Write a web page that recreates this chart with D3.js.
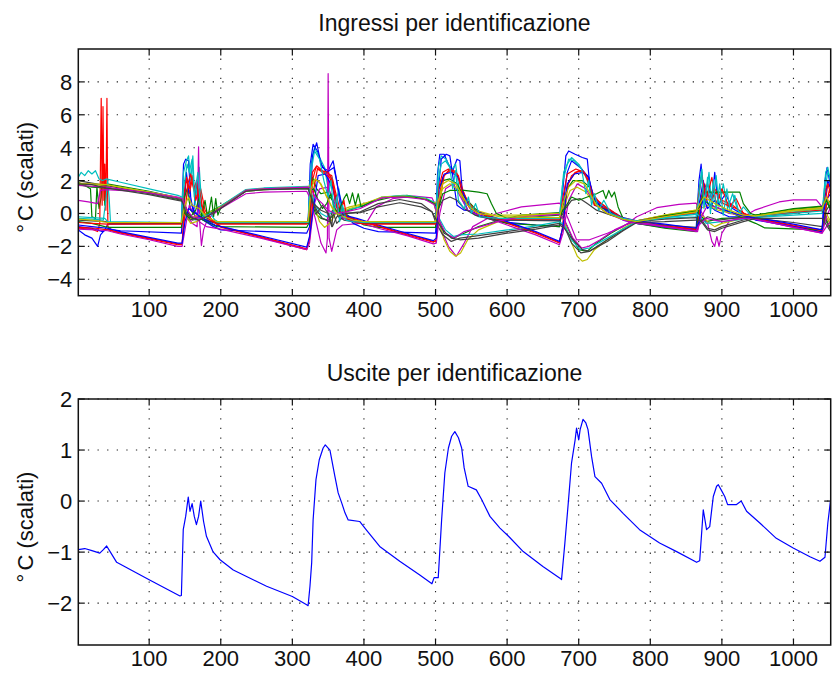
<!DOCTYPE html>
<html>
<head>
<meta charset="utf-8">
<script src="https://cdn.jsdelivr.net/npm/d3@7"></script>
<style>
body { margin: 0; background: #fff; }
svg { font-family: "Liberation Sans", Arial, Helvetica, sans-serif; }
.frame { fill: none; stroke: #111; stroke-width: 1.5; }
.grid line { stroke: #222; stroke-width: 1.1; stroke-dasharray: 1.3 8.3; }
.tick { stroke: #111; stroke-width: 1.2; }
.series { fill: none; stroke-width: 1.2; stroke-linejoin: round; }
text { fill: #111; }
</style>
</head>
<body>
<div id="chart"></div>
<script>
// ---- data ([sample, value]) ----
const xTicks = [100, 200, 300, 400, 500, 600, 700, 800, 900, 1000];
const yTicksTop = [-4, -2, 0, 2, 4, 6, 8];
const yTicksBottom = [-2, -1, 0, 1, 2];

// MATLAB default colour order, cycled over the inputs
const colorOrder = ['#0000ff', '#008000', '#ff0000', '#00bfbf', '#bf00bf', '#bfbf00', '#404040'];

const inBlue1 = [[1,-1.0],[10,-1.3],[20,-1.5],[28,-2.0],[32,-1.3],[38,-1.0],[42,-0.65],[145,-0.6],[148,3.0],[151,3.3],[155,3.2],[158,1.0],[162,0.0],[166,2.0],[170,-0.2],[180,-0.4],[195,-0.6],[322,-0.6],[325,3.0],[329,4.2],[335,3.8],[342,2.8],[350,2.6],[357,3.2],[362,2.0],[368,0.2],[380,-0.3],[400,-0.6],[500,-0.6],[503,2.5],[506,3.6],[512,3.6],[518,3.0],[524,2.6],[530,3.3],[534,3.2],[538,1.0],[545,0.2],[560,-0.1],[590,-0.4],[673,-0.4],[678,1.5],[682,3.5],[686,3.8],[695,3.6],[705,3.4],[712,3.3],[716,1.5],[722,0.5],[740,0.2],[762,-0.3],[781,-0.6],[820,-0.8],[864,-1.0],[868,2.0],[871,3.0],[874,1.0],[880,1.8],[886,0.8],[890,2.5],[895,0.5],[905,1.2],[915,0.3],[930,-0.1],[947,-0.4],[1000,-0.8],[1040,-1.0],[1044,2.0],[1047,2.8],[1052,1.6]];
const inGreen1 = [[1,1.9],[10,1.7],[18,1.5],[20,-0.2],[25,-0.3],[27,1.6],[30,0.3],[33,1.0],[36,3.3],[38,0.5],[41,1.8],[100,1.35],[145,0.9],[150,0.0],[155,-0.4],[165,-0.3],[180,0.0],[200,0.45],[235,1.4],[260,1.5],[322,1.6],[326,1.0],[332,0.0],[340,-0.3],[350,-0.4],[360,0.0],[380,0.2],[400,0.5],[430,1.0],[460,1.1],[485,0.9],[498,0.6],[504,-0.3],[512,-1.2],[525,-1.5],[540,-1.2],[560,-0.8],[590,-0.4],[620,-0.1],[673,0.05],[680,-0.4],[690,-1.4],[700,-2.2],[712,-2.3],[725,-1.8],[745,-1.2],[765,-0.7],[781,-0.45],[820,-0.15],[864,0.15],[870,-0.1],[878,-0.5],[900,-0.3],[930,-0.25],[947,-0.1],[1000,0.25],[1040,0.4],[1046,-0.4],[1052,-0.9]];
const inRed1 = [[1,-0.9],[20,-0.95],[28,-1.1],[31,-0.6],[33,7.0],[34.3,0.5],[35.5,6.5],[36.8,0.8],[38,3.0],[39.5,0.2],[41,7.0],[42.3,-0.8],[50,-1.1],[100,-1.55],[140,-1.9],[146,-1.9],[149,0.5],[152,2.2],[156,1.2],[160,2.0],[165,1.0],[172,1.5],[178,0.2],[186,-0.3],[196,-0.7],[201,-0.85],[260,-1.5],[320,-2.2],[324,-1.5],[328,2.0],[333,2.8],[345,2.5],[355,2.3],[362,1.0],[368,0.0],[375,-0.2],[390,-0.35],[420,-0.8],[460,-1.3],[497,-1.75],[501,-1.6],[505,1.0],[510,2.2],[518,2.6],[528,2.5],[534,2.0],[540,1.2],[548,0.4],[560,0.1],[580,-0.3],[600,-0.6],[640,-1.2],[673,-1.8],[677,-1.0],[683,1.5],[690,2.3],[700,2.6],[712,2.3],[720,1.2],[730,0.6],[745,0.2],[762,-0.3],[781,-0.5],[820,-0.75],[866,-1.0],[870,0.8],[876,1.8],[882,1.0],[890,1.5],[900,0.8],[915,0.5],[930,0.0],[947,-0.3],[1000,-0.75],[1040,-1.15],[1044,0.5],[1048,1.8],[1052,1.6]];
const inCyan1 = [[1,-0.3],[20,-0.35],[36,-0.4],[40,1.0],[42,2.0],[44,1.0],[46,-0.55],[145,-0.55],[148,2.5],[152,3.2],[155,3.5],[158,2.0],[161,3.5],[164,0.5],[170,2.8],[174,0.0],[180,-0.3],[195,-0.55],[322,-0.55],[326,3.0],[331,4.0],[337,3.5],[345,2.8],[350,1.5],[355,2.2],[360,0.5],[365,1.5],[370,-0.2],[380,-0.4],[400,-0.55],[500,-0.55],[504,2.8],[508,3.5],[515,3.3],[522,2.6],[528,3.0],[533,1.5],[538,0.8],[545,0.2],[560,-0.2],[590,-0.35],[673,-0.35],[679,2.5],[684,3.0],[690,3.4],[700,3.0],[706,2.6],[712,2.0],[718,1.2],[725,0.6],[740,0.3],[762,-0.3],[781,-0.5],[820,-0.3],[864,-0.2],[868,1.5],[872,2.7],[876,0.5],[882,2.5],[886,0.3],[892,2.3],[896,0.4],[902,1.8],[908,0.3],[915,1.2],[922,0.2],[930,0.0],[947,-0.25],[1000,-0.1],[1040,0.0],[1045,2.5],[1048,2.8],[1052,1.8]];
const inMagenta1 = [[1,0.8],[15,0.7],[28,0.6],[32,1.4],[40,1.45],[100,1.3],[140,1.0],[146,0.9],[152,0.0],[160,-0.6],[167,-0.8],[169,4.05],[170.5,-0.5],[173,-1.95],[176,-1.0],[182,-0.3],[200,0.3],[235,1.2],[260,1.3],[320,1.35],[324,1.0],[332,-0.3],[340,-1.8],[347,-2.4],[349,-1.5],[350,8.5],[351.3,-1.5],[355,-2.3],[362,-1.0],[370,-0.7],[395,-0.6],[403,-0.6],[417,0.4],[440,0.9],[470,1.05],[495,0.95],[500,0.5],[508,-1.0],[518,-2.0],[529,-2.6],[540,-1.8],[552,-0.8],[585,0.0],[620,0.4],[673,0.63],[678,0.4],[685,-0.3],[697,-1.6],[715,-1.6],[740,-1.2],[762,-0.8],[781,-0.2],[809,0.35],[840,0.55],[864,0.63],[870,0.2],[880,-0.6],[886,-1.7],[890,-2.0],[893,-1.4],[896,-2.0],[900,-1.2],[910,-0.5],[930,-0.2],[947,0.22],[980,0.7],[1000,0.83],[1032,0.83],[1040,0.4],[1046,-0.3],[1052,-0.6]];
const inYellow1 = [[1,1.8],[40,1.7],[100,1.3],[140,0.95],[146,0.85],[152,-0.2],[158,-0.6],[166,-0.5],[175,-0.2],[190,0.1],[200,0.35],[235,1.35],[260,1.45],[322,1.55],[326,1.2],[332,0.3],[338,-0.5],[345,-0.85],[352,-0.6],[362,0.1],[380,0.4],[400,0.6],[430,1.0],[460,1.05],[488,0.85],[498,0.55],[504,-0.4],[512,-1.6],[520,-2.3],[528,-2.6],[535,-2.4],[545,-1.6],[560,-1.0],[590,-0.45],[620,-0.15],[673,0.0],[680,-0.5],[690,-1.8],[698,-2.6],[705,-2.9],[712,-2.8],[722,-2.2],[740,-1.6],[762,-0.9],[781,-0.45],[820,-0.1],[864,0.2],[870,0.0],[880,-0.5],[890,-0.8],[900,-0.6],[930,-0.3],[947,-0.15],[1000,0.2],[1040,0.35],[1046,-0.2],[1052,-0.7]];
const inGray1 = [[1,2.0],[20,1.85],[40,1.7],[100,1.2],[140,0.85],[146,0.8],[152,0.0],[160,-0.4],[170,-0.3],[180,-0.1],[200,0.4],[235,1.4],[260,1.5],[322,1.55],[326,1.2],[334,0.2],[342,-0.3],[352,-0.5],[356,0.2],[362,-0.6],[375,0.0],[395,0.1],[420,0.6],[450,0.85],[480,0.6],[495,0.1],[500,-0.5],[510,-1.3],[522,-1.7],[534,-1.5],[560,-1.35],[600,-1.1],[640,-0.85],[673,-0.6],[680,-0.8],[690,-1.8],[703,-2.4],[715,-2.3],[740,-1.6],[762,-1.0],[781,-0.5],[820,-0.35],[864,-0.25],[870,-0.3],[880,-0.9],[890,-1.0],[900,-0.8],[930,-0.4],[947,-0.2],[1000,0.0],[1040,0.2],[1046,-0.5],[1052,-1.0]];
const inBlue2 = [[1,-0.8],[20,-0.9],[35,-1.1],[42,-0.95],[60,-1.05],[145,-1.2],[148,0.5],[152,2.5],[156,1.0],[162,0.2],[175,-0.4],[190,-0.8],[200,-1.0],[320,-1.2],[324,-0.8],[328,3.5],[334,4.3],[340,3.0],[348,2.5],[358,2.8],[364,1.5],[372,0.0],[385,-0.6],[400,-0.9],[420,-1.1],[500,-1.2],[504,1.5],[508,3.3],[515,3.6],[520,3.5],[525,2.0],[530,0.5],[540,0.2],[550,0.15],[560,-0.1],[590,-0.5],[640,-0.7],[673,-0.8],[678,0.5],[684,2.5],[690,3.2],[702,2.8],[714,2.2],[722,0.8],[740,0.1],[762,-0.4],[781,-0.6],[820,-0.85],[864,-1.05],[868,0.5],[874,2.0],[880,0.6],[890,0.2],[910,-0.2],[930,-0.2],[947,-0.35],[1000,-0.8],[1040,-1.1],[1045,0.8],[1052,1.2]];
const inGreen2 = [[1,-0.5],[20,-0.6],[38,-0.8],[45,-0.85],[145,-0.85],[148,0.8],[153,1.5],[158,0.2],[165,-0.2],[175,-0.4],[195,-0.8],[320,-0.85],[324,-0.5],[328,2.2],[334,1.5],[340,1.2],[348,1.3],[356,0.8],[365,0.3],[380,-0.2],[400,-0.7],[420,-0.85],[500,-0.85],[504,1.5],[510,2.0],[520,2.1],[530,1.8],[540,1.0],[555,0.3],[575,-0.3],[600,-0.6],[673,-0.8],[678,0.5],[684,1.5],[692,2.0],[705,2.0],[715,1.6],[725,0.6],[740,0.2],[762,-0.35],[781,-0.6],[820,-0.9],[864,-1.1],[868,0.3],[874,0.8],[890,0.4],[910,0.1],[930,-0.3],[947,-0.6],[960,-0.88],[1037,-1.0],[1042,-0.8],[1046,0.5],[1052,0.8]];
const inRed2 = [[1,-0.85],[25,-0.9],[42,-1.0],[60,-1.15],[100,-1.5],[140,-1.85],[146,-1.85],[150,0.0],[154,1.8],[158,2.4],[162,1.5],[166,1.9],[170,0.8],[178,0.0],[188,-0.4],[200,-0.8],[260,-1.45],[320,-2.15],[324,-1.6],[330,1.5],[335,2.7],[342,2.5],[352,2.2],[358,1.5],[364,0.3],[372,-0.1],[390,-0.4],[420,-0.75],[460,-1.25],[497,-1.7],[501,-1.7],[505,0.5],[512,2.3],[520,2.6],[530,2.4],[536,1.6],[544,0.8],[555,0.2],[580,-0.25],[600,-0.55],[640,-1.15],[673,-1.75],[678,-0.8],[685,1.8],[695,2.5],[705,2.6],[714,2.0],[720,1.0],[735,0.5],[750,0.0],[762,-0.3],[781,-0.5],[820,-0.7],[866,-0.95],[870,0.5],[876,1.5],[884,0.8],[892,1.3],[902,0.6],[920,0.3],[935,-0.1],[947,-0.3],[1000,-0.7],[1040,-1.05],[1045,0.3],[1050,1.4],[1052,1.2]];
const inCyan2 = [[1,2.2],[5,2.5],[10,2.3],[15,2.6],[20,2.4],[25,2.6],[30,2.1],[35,2.0],[40,2.1],[60,1.9],[100,1.5],[140,1.1],[146,1.0],[150,0.3],[156,-0.2],[165,-0.4],[178,-0.1],[200,0.45],[235,1.45],[260,1.55],[322,1.65],[326,1.3],[332,0.5],[340,0.0],[348,-0.2],[358,0.2],[375,0.2],[395,0.4],[425,1.0],[455,1.1],[485,0.95],[498,0.7],[504,-0.2],[514,-1.0],[525,-1.4],[534,-1.3],[560,-1.25],[600,-1.0],[640,-0.75],[673,-0.5],[680,-0.7],[690,-1.6],[702,-2.2],[715,-2.1],[740,-1.5],[762,-0.95],[781,-0.5],[820,-0.25],[864,0.0],[870,-0.2],[878,-0.6],[900,-0.5],[930,-0.35],[947,-0.2],[1000,0.1],[1040,0.3],[1046,0.8],[1052,0.3]];
const inMagenta2 = [[1,-0.95],[25,-1.0],[42,-1.05],[60,-1.25],[100,-1.6],[140,-2.0],[146,-2.0],[150,-1.0],[156,0.5],[162,0.0],[170,-0.5],[180,-0.8],[200,-0.95],[260,-1.55],[320,-2.2],[324,-1.8],[330,0.5],[338,1.5],[350,1.6],[360,0.5],[370,-0.3],[390,-0.5],[420,-0.9],[460,-1.35],[497,-1.85],[501,-1.8],[506,0.0],[514,1.5],[525,1.8],[535,1.0],[545,0.2],[560,-0.1],[580,-0.4],[600,-0.7],[640,-1.3],[673,-1.9],[678,-1.2],[686,0.8],[698,1.8],[710,1.5],[722,0.6],[740,0.0],[762,-0.4],[781,-0.6],[820,-0.8],[866,-1.1],[870,-0.3],[880,0.5],[892,0.4],[910,0.0],[930,-0.1],[947,-0.35],[1000,-0.85],[1040,-1.2],[1046,-0.2],[1052,0.4]];
const inYellow2 = [[1,1.85],[40,1.75],[100,1.3],[140,0.95],[146,0.9],[152,0.2],[158,-0.3],[168,-0.1],[180,0.0],[200,0.4],[235,1.4],[260,1.5],[322,1.6],[326,1.8],[332,2.1],[340,1.8],[348,1.0],[356,0.3],[366,0.0],[380,0.3],[395,0.5],[425,1.0],[455,1.05],[485,0.9],[498,0.6],[504,0.8],[510,1.5],[520,1.8],[530,1.5],[540,0.8],[555,0.2],[580,-0.1],[620,-0.1],[673,0.0],[680,0.5],[688,1.4],[698,1.6],[710,1.3],[722,0.6],[740,0.0],[762,-0.35],[781,-0.45],[820,-0.1],[864,0.2],[870,0.3],[880,0.5],[895,0.2],[915,0.0],[930,-0.2],[947,-0.1],[1000,0.2],[1040,0.35],[1046,0.0],[1052,-0.5]];
const inGray2 = [[1,-0.4],[20,-0.45],[40,-0.5],[45,-0.6],[145,-0.6],[150,0.5],[155,0.0],[162,-0.3],[172,-0.2],[185,-0.5],[195,-0.6],[322,-0.6],[326,0.8],[332,0.5],[340,0.2],[350,0.0],[355,-0.8],[358,0.5],[364,-0.2],[372,-0.4],[400,-0.6],[500,-0.6],[504,0.3],[510,0.8],[520,1.0],[530,0.8],[540,0.3],[555,-0.1],[580,-0.4],[673,-0.45],[680,0.2],[690,0.8],[702,0.9],[712,0.6],[725,0.2],[745,-0.1],[762,-0.3],[781,-0.5],[820,-0.7],[864,-0.85],[870,-0.5],[880,-0.2],[895,-0.4],[915,-0.3],[935,-0.2],[947,-0.3],[1000,-0.55],[1040,-0.8],[1046,0.2],[1052,0.6]];
const inBlue3 = [[1,-0.7],[20,-0.8],[42,-0.9],[60,-1.1],[100,-1.45],[140,-1.8],[146,-1.8],[150,-0.5],[155,0.3],[165,0.0],[178,-0.4],[192,-0.7],[201,-0.8],[260,-1.4],[320,-2.05],[324,-1.4],[330,0.5],[336,2.3],[346,2.4],[356,1.6],[364,0.2],[372,-0.1],[390,-0.3],[420,-0.7],[460,-1.2],[497,-1.65],[501,-1.5],[505,1.5],[512,2.4],[522,2.5],[532,2.2],[538,1.3],[546,0.5],[558,0.1],[580,-0.2],[600,-0.5],[640,-1.1],[673,-1.7],[678,-0.8],[684,1.8],[694,2.4],[706,2.5],[714,2.2],[720,1.0],[730,0.5],[745,0.1],[762,-0.25],[781,-0.45],[820,-0.65],[864,-0.9],[868,-0.5],[874,1.0],[880,0.3],[890,0.8],[905,0.2],[925,-0.1],[947,-0.25],[1000,-0.65],[1040,-1.0],[1044,1.0],[1048,2.0],[1052,1.5]];
const inGreen3 = [[1,1.75],[20,1.6],[40,1.55],[100,1.25],[140,0.9],[146,0.85],[150,0.0],[156,-0.3],[165,0.2],[170,1.0],[173,-0.2],[178,0.8],[182,-0.3],[187,1.0],[190,-0.2],[193,0.9],[196,-0.1],[200,0.35],[235,1.35],[260,1.45],[322,1.55],[326,1.4],[330,1.5],[336,0.8],[342,0.3],[348,0.6],[354,1.2],[358,0.4],[364,0.0],[372,0.9],[376,1.2],[380,0.6],[384,1.25],[388,0.5],[392,1.2],[396,0.4],[410,0.7],[440,1.0],[470,1.0],[490,0.8],[498,0.6],[504,0.3],[510,1.2],[520,1.4],[540,1.4],[560,1.3],[572,1.2],[578,0.6],[585,0.0],[600,-0.3],[640,-0.2],[673,-0.1],[680,0.3],[690,1.0],[700,0.8],[712,1.0],[725,1.2],[734,1.4],[738,0.9],[742,1.4],[746,1.0],[750,1.3],[755,0.4],[762,-0.3],[781,-0.5],[820,-0.15],[864,0.15],[870,0.5],[874,1.3],[900,1.3],[925,1.3],[930,0.6],[940,0.0],[947,-0.1],[1000,0.3],[1040,0.45],[1046,0.8],[1052,0.2]];
const inRed3 = [[1,-0.55],[20,-0.6],[42,-0.65],[145,-0.65],[148,1.0],[152,2.2],[156,1.5],[160,2.3],[165,0.8],[170,1.5],[176,0.0],[185,-0.4],[195,-0.65],[320,-0.65],[324,0.0],[328,2.5],[334,2.9],[342,2.6],[350,2.5],[356,2.0],[360,0.8],[366,-0.2],[372,0.8],[376,-0.3],[385,-0.5],[400,-0.65],[500,-0.65],[504,1.5],[510,2.5],[518,2.7],[526,2.6],[532,2.3],[538,1.0],[548,0.3],[560,0.0],[590,-0.35],[673,-0.35],[678,1.0],[684,2.4],[696,2.7],[708,2.5],[716,1.6],[722,0.5],[740,0.3],[762,-0.3],[781,-0.45],[820,-0.2],[864,0.05],[868,1.2],[872,2.3],[878,0.8],[886,2.2],[892,0.6],[900,1.5],[910,0.4],[920,0.9],[930,0.0],[947,-0.2],[1000,0.05],[1040,0.2],[1045,1.5],[1048,1.8],[1052,1.2]];
const inCyan3 = [[1,-0.2],[20,-0.25],[38,-0.3],[42,-0.5],[145,-0.55],[148,1.5],[153,3.0],[156,2.5],[160,3.3],[163,1.0],[168,2.5],[172,0.2],[178,-0.2],[185,0.0],[192,-0.4],[198,-0.55],[322,-0.55],[326,2.5],[331,3.8],[338,3.3],[344,2.0],[350,1.0],[354,2.0],[358,0.0],[362,1.0],[366,-0.5],[370,0.5],[375,-0.4],[385,-0.5],[400,-0.55],[500,-0.55],[504,2.0],[508,3.0],[514,3.2],[520,2.8],[524,1.5],[528,2.6],[532,0.8],[540,0.3],[546,1.0],[550,0.0],[556,0.6],[562,-0.2],[590,-0.3],[673,-0.3],[678,2.0],[686,3.3],[694,3.2],[704,2.7],[710,1.2],[714,2.0],[718,0.5],[722,1.2],[728,0.2],[735,0.8],[745,0.0],[762,-0.3],[781,-0.45],[820,-0.25],[864,-0.05],[868,1.0],[872,2.5],[875,0.3],[880,2.2],[884,0.0],[888,2.0],[892,0.2],[897,1.8],[902,-0.1],[907,1.5],[912,0.0],[918,1.1],[924,0.0],[930,0.4],[940,-0.1],[947,-0.2],[1000,0.0],[1040,0.15],[1044,1.5],[1048,2.5],[1052,2.2]];
const inMagenta3 = [[1,1.7],[40,1.6],[100,1.25],[140,0.95],[146,0.9],[152,0.3],[160,-0.2],[175,-0.3],[188,0.0],[200,0.35],[235,1.4],[260,1.5],[322,1.6],[326,1.5],[332,1.0],[342,0.6],[350,0.2],[360,0.0],[375,0.1],[395,0.3],[425,0.95],[455,1.0],[485,0.85],[498,0.55],[504,-0.3],[514,-1.2],[526,-1.5],[540,-1.1],[560,-0.85],[590,-0.45],[620,-0.2],[673,-0.05],[680,-0.4],[692,-1.5],[704,-2.1],[714,-2.0],[730,-1.6],[750,-1.0],[770,-0.6],[781,-0.5],[820,-0.8],[864,-1.05],[868,-0.7],[878,-0.3],[900,-0.5],[930,-0.3],[947,-0.35],[1000,-0.85],[1040,-1.2],[1046,-0.8],[1052,-0.5]];
const inYellow3 = [[1,-0.35],[20,-0.4],[42,-0.55],[145,-0.55],[150,0.5],[155,1.0],[160,0.5],[170,0.3],[180,-0.2],[195,-0.5],[322,-0.5],[326,1.5],[332,2.1],[338,1.9],[346,1.2],[354,0.5],[362,0.0],[372,-0.2],[385,-0.4],[400,-0.5],[500,-0.5],[504,0.8],[510,1.8],[518,2.0],[528,1.8],[536,1.2],[545,0.5],[560,0.0],[590,-0.2],[673,-0.25],[678,0.6],[686,1.6],[696,2.0],[708,1.8],[716,1.2],[725,0.5],[740,0.0],[762,-0.35],[781,-0.5],[820,-0.2],[864,0.1],[868,0.5],[875,1.0],[890,0.6],[910,0.2],[930,-0.1],[947,-0.15],[1000,0.15],[1040,0.3],[1046,1.0],[1052,0.5]];
const inGray3 = [[1,1.8],[20,1.75],[40,1.55],[100,1.15],[140,0.8],[146,0.75],[152,0.0],[160,-0.3],[170,-0.4],[180,-0.2],[200,0.3],[235,1.35],[260,1.45],[322,1.5],[326,1.0],[334,0.0],[342,0.5],[350,0.0],[356,-0.8],[362,-0.2],[375,0.0],[395,0.05],[420,0.4],[450,0.65],[480,0.4],[495,0.1],[500,-0.3],[510,-1.0],[522,-1.5],[534,-1.6],[560,-1.5],[600,-1.2],[640,-0.95],[673,-0.7],[680,-0.9],[692,-1.6],[705,-2.2],[715,-2.3],[740,-1.7],[762,-1.05],[781,-0.55],[820,-0.5],[864,-0.4],[870,-0.4],[880,-1.0],[890,-1.1],[900,-0.9],[930,-0.5],[947,-0.3],[1000,-0.3],[1040,-0.3],[1046,-0.7],[1052,-1.1]];

const inputs = [inBlue1, inGreen1, inRed1, inCyan1, inMagenta1, inYellow1, inGray1,
                inBlue2, inGreen2, inRed2, inCyan2, inMagenta2, inYellow2, inGray2,
                inBlue3, inGreen3, inRed3, inCyan3, inMagenta3, inYellow3, inGray3];

const output = [[1,-0.95],[10,-0.93],[20,-0.97],[31,-1.02],[36,-0.95],[40.6,-0.88],[45,-0.98],[54.6,-1.2],[100,-1.54],[143,-1.86],[145,-1.85],[147.6,-0.56],[151,-0.3],[154.6,0.08],[157,-0.2],[160,-0.05],[163,-0.3],[166,-0.46],[169,-0.3],[172,0.0],[176,-0.4],[180,-0.69],[189,-0.99],[199,-1.15],[217.5,-1.35],[264,-1.67],[300,-1.87],[320,-2.03],[322,-2.05],[324.6,-1.67],[327,-1.21],[329,-0.37],[333,0.42],[337.6,0.81],[343,1.04],[346,1.1],[352.5,1.0],[359.5,0.48],[364,0.16],[368.8,-0.03],[373.5,-0.23],[378,-0.37],[394,-0.4],[403,-0.56],[422,-0.89],[450,-1.18],[478,-1.45],[495,-1.62],[498,-1.5],[503.8,-1.5],[508.5,-0.37],[513,0.55],[518,1.04],[522.5,1.27],[527,1.36],[532,1.24],[536.5,1.04],[540,0.65],[545.6,0.29],[557,0.22],[564.4,0.03],[576,-0.3],[590,-0.53],[602,-0.69],[622.5,-0.99],[650,-1.28],[673.8,-1.51],[676,-1.54],[680.7,-0.82],[685.4,-0.04],[690,0.75],[695,1.2],[697,1.43],[700,1.2],[702,1.4],[706,1.6],[710,1.53],[713,1.4],[718,0.87],[722.7,0.48],[732,0.35],[743.5,0.03],[762,-0.24],[785,-0.56],[813,-0.82],[836.8,-0.99],[864.7,-1.2],[869,-1.17],[874,-0.17],[878.6,-0.56],[883,-0.5],[888,0.09],[892.6,0.29],[895,0.32],[899,0.22],[904,0.09],[908,-0.07],[920,-0.07],[927,0.0],[934.5,-0.2],[953,-0.43],[976,-0.73],[999.6,-0.92],[1023,-1.09],[1037,-1.18],[1044,-1.1],[1048,-0.43],[1053,0.16]];

// ---- layout ----
const W = 832, H = 677;
const plotLeft = 78.3, plotRight = 830.7;

let svg = d3.select('#chart').append('svg')
    .attr('width', W)
    .attr('height', H);

let xScale = d3.scaleLinear()
    .domain([1, 1052])
    .range([plotLeft, plotRight]);

function drawPanel(p) {
    let yScale = d3.scaleLinear()
        .domain(p.yDomain)
        .range([p.bottom, p.top]);

    let g = svg.append('g');

    // dotted grid
    let grid = g.append('g').attr('class', 'grid');
    grid.selectAll('.gx')
        .data(xTicks)
        .enter().append('line')
        .attr('x1', d => xScale(d)).attr('x2', d => xScale(d))
        .attr('y1', p.top).attr('y2', p.bottom);
    grid.selectAll('.gy')
        .data(p.yTicks)
        .enter().append('line')
        .attr('x1', plotLeft).attr('x2', plotRight)
        .attr('y1', d => yScale(d)).attr('y2', d => yScale(d));

    // clip to the axes box
    let clipId = 'clip' + p.id;
    svg.append('clipPath').attr('id', clipId)
        .append('rect')
        .attr('x', plotLeft).attr('y', p.top)
        .attr('width', plotRight - plotLeft).attr('height', p.bottom - p.top);

    let line = d3.line()
        .x(d => xScale(d[0]))
        .y(d => yScale(d[1]));

    g.append('g').attr('clip-path', 'url(#' + clipId + ')')
        .selectAll('path')
        .data(p.series)
        .enter().append('path')
        .attr('class', 'series')
        .attr('stroke', (d, i) => p.colors[i % p.colors.length])
        .attr('d', line);

    // box and inward ticks
    g.append('rect').attr('class', 'frame')
        .attr('x', plotLeft).attr('y', p.top)
        .attr('width', plotRight - plotLeft).attr('height', p.bottom - p.top);

    let tl = 6.5;
    xTicks.forEach(function(t) {
        let x = xScale(t);
        g.append('line').attr('class', 'tick').attr('x1', x).attr('x2', x).attr('y1', p.bottom).attr('y2', p.bottom - tl);
        g.append('line').attr('class', 'tick').attr('x1', x).attr('x2', x).attr('y1', p.top).attr('y2', p.top + tl);
    });
    p.yTicks.forEach(function(t) {
        let y = yScale(t);
        g.append('line').attr('class', 'tick').attr('x1', plotLeft).attr('x2', plotLeft + tl).attr('y1', y).attr('y2', y);
        g.append('line').attr('class', 'tick').attr('x1', plotRight).attr('x2', plotRight - tl).attr('y1', y).attr('y2', y);
    });

    let fmt = d3.format('');
    g.selectAll('.xl')
        .data(xTicks)
        .enter().append('text')
        .attr('x', d => xScale(d))
        .attr('y', p.bottom + 21)
        .attr('text-anchor', 'middle')
        .style('font-size', '22px')
        .text(d => fmt(d));
    g.selectAll('.yl')
        .data(p.yTicks)
        .enter().append('text')
        .attr('x', plotLeft - 6)
        .attr('y', d => yScale(d) + 8)
        .attr('text-anchor', 'end')
        .style('font-size', '22px')
        .text(d => fmt(d));

    g.append('text')
        .attr('x', (plotLeft + plotRight) / 2)
        .attr('y', p.top - 18)
        .attr('text-anchor', 'middle')
        .style('font-size', '23px')
        .text(p.title);

    // y label; MATLAB leaves a small gap after the degree sign
    let yl = g.append('text')
        .attr('transform', 'translate(33,' + ((p.top + p.bottom) / 2 + 5) + ') rotate(-90)')
        .attr('text-anchor', 'middle')
        .style('font-size', '22px');
    yl.append('tspan').text('°');
    yl.append('tspan').attr('dx', 3).text('C (scalati)');
}

drawPanel({
    id: 'top', top: 49, bottom: 295.7,
    yDomain: [-5, 10], yTicks: yTicksTop,
    series: inputs, colors: colorOrder,
    title: 'Ingressi per identificazione'
});

drawPanel({
    id: 'bot', top: 399, bottom: 645,
    yDomain: [-2.82, 2], yTicks: yTicksBottom,
    series: [output], colors: ['#0000ff'],
    title: 'Uscite per identificazione'
});
</script>
</body>
</html>
